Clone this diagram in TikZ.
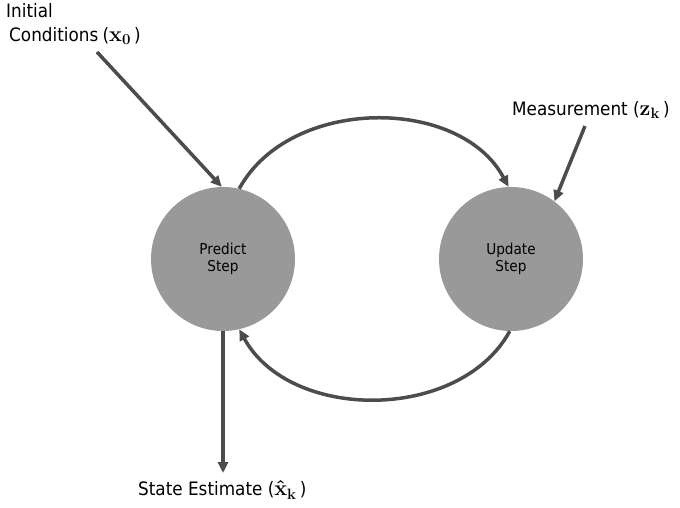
\documentclass[tikz,border=0pt]{standalone}
\usepackage[no-math]{fontspec}
\setmainfont[FakeStretch=0.91]{DejaVu Sans}
\usetikzlibrary{arrows.meta}
\newcommand{\bm}[1]{\scalebox{1.25}{\boldmath$#1$}}
\begin{document}
\begin{tikzpicture}[x=1pt,y=-1pt,
  stepnode/.style={circle,fill=black!40,minimum size=144pt,inner sep=0pt,align=center,font=\fontsize{15}{16.5}\selectfont},
  lbl/.style={inner sep=0pt,font=\fontsize{18.5}{24}\selectfont,anchor=west},
  conn/.style={draw=black!70,line width=3.5pt,-{Triangle[length=11pt,width=10pt]}}]
\useasboundingbox (0,0) rectangle (680,508);
\node[stepnode] (p) at (223,259) {Predict\\Step};
\node[stepnode] (u) at (511,259) {Update\\Step};
\node[lbl,align=left] (init) at (6,24) {Initial\\\hspace*{3pt}Conditions\hspace{-1pt} (\bm{\mathbf{x}_0}\,)};
\node[lbl] (meas) at (512,110) {Measurement (\bm{\mathbf{z}_\mathbf{k}}\,)};
\node[lbl] (est) at (138,490) {State Estimate (\bm{\hat{\mathbf{x}}_{\mathbf{k}}}\,)};
\coordinate (a0) at (97,52);
\coordinate (m0) at (585,126);
\coordinate (e0) at (223,473);
\draw[conn] (a0) -- (p.91);
\draw[conn] (m0) -- (u.53);
\draw[conn] (p.77) .. controls (290,96) and (460,96) .. (u.92);
\draw[conn] (u.-91) .. controls (460,422) and (290,422) .. (p.-77);
\draw[conn] (p.south) -- (e0);
\end{tikzpicture}
\end{document}
